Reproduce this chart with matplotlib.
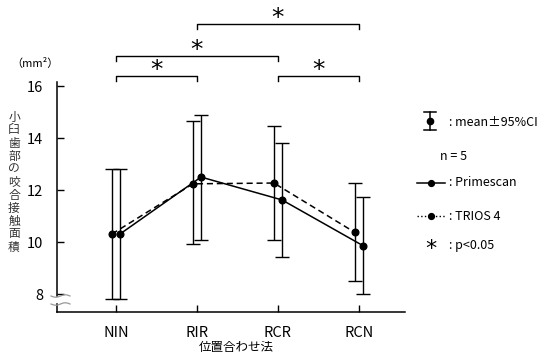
import numpy as np
import matplotlib
matplotlib.use("Agg")
import matplotlib.pyplot as plt
from matplotlib.lines import Line2D

plt.rcParams['font.family'] = ['Noto Sans CJK JP', 'DejaVu Sans']

categories = ['NIN', 'RIR', 'RCR', 'RCN']
primescan_mean = [10.31, 12.50, 11.62, 9.86]
primescan_lo = [7.80, 10.07, 9.42, 7.99]
primescan_hi = [12.81, 14.88, 13.80, 11.74]
trios_mean = [10.31, 12.24, 12.27, 10.37]
trios_lo = [7.80, 9.91, 10.08, 8.50]
trios_hi = [12.81, 14.65, 14.46, 12.26]
yticks = [8, 10, 12, 14, 16]
sig_pairs = [(0, 1), (0, 2), (1, 3), (2, 3)]
sig_levels = [16.385, 17.15, 18.38, 16.385]

W, H = 554, 356
fig = plt.figure(figsize=(W / 100, H / 100), dpi=100)
ax = fig.add_axes([57 / W, 1 - 312 / H, 348 / W, 226 / H])
ymin = 7.31
ax.set_ylim(ymin, ymin + 226 / 26)
ax.set_xlim(-0.728, 3.568)

x = np.arange(len(categories))
off = 0.05
pm = np.array(primescan_mean); tm = np.array(trios_mean)
ax.errorbar(x - off, tm, yerr=[tm - np.array(trios_lo), np.array(trios_hi) - tm],
            fmt='none', ecolor='k', elinewidth=1.0, capsize=4.7, capthick=1.0, zorder=2)
ax.errorbar(x + off, pm, yerr=[pm - np.array(primescan_lo), np.array(primescan_hi) - pm],
            fmt='none', ecolor='k', elinewidth=1.0, capsize=4.7, capthick=1.0, zorder=2)
ax.plot(x - off, tm, color='k', lw=1.1, dashes=(4, 2.5), marker='o', ms=4.8, zorder=3)
ax.plot(x + off, pm, color='k', lw=1.1, marker='o', ms=4.8, zorder=3)

for s in ['top', 'right', 'left']:
    ax.spines[s].set_visible(False)
ax.spines['bottom'].set_linewidth(1.1)

# manual left spine with break
tr = ax.get_yaxis_transform()
ax.add_line(Line2D([0, 0], [16.15, 7.92], transform=tr, color='k', lw=1.1, clip_on=False))
ax.add_line(Line2D([0, 0], [7.62, ymin], transform=tr, color='k', lw=1.1, clip_on=False))
# break marks
tt = np.linspace(0, 1, 30)
for yb in [296, 304]:
    xs = (51 + 19 * tt) / W
    ys = 1 - (yb + 1.2 * np.sin(tt * 2 * np.pi)) / H
    fig.add_artist(Line2D(xs, ys, transform=fig.transFigure, color='#999999', lw=0.9))

ax.set_yticks(yticks)
ax.set_yticklabels([str(v) for v in yticks])
ax.set_xticks(x)
ax.set_xticklabels(categories)
ax.tick_params(axis='y', direction='in', length=5, width=1.0, pad=10, labelsize=10.5)
ax.tick_params(axis='x', direction='in', length=5, width=1.0, pad=10, labelsize=10.5)

STAR = dict(family='DejaVu Sans')
# significance brackets
for (a, b), lv in zip(sig_pairs, sig_levels):
    ax.plot([a, a, b, b], [lv - 0.19, lv, lv, lv - 0.19], color='k', lw=1.0, clip_on=False)
    ax.text((a + b) / 2, lv + 0.24, '*', ha='center', va='center', fontsize=18,
            clip_on=False, **STAR)

def F(px, py):
    return px / W, 1 - py / H

fig.text(*F(35, 63), '（mm²）', ha='center', va='center', fontsize=8)
fig.text(*F(14, 182), '\n'.join('小臼歯部の咬合接触面積'), ha='center', va='center',
         fontsize=8.5, linespacing=1.0, color='#333333')
fig.text(*F(236, 348), '位置合わせ法', ha='center', va='center', fontsize=9)

# legend
fx = lambda px: px / W
fy = lambda py: 1 - py / H
fig.add_artist(Line2D([fx(430)] * 2, [fy(112), fy(130)], transform=fig.transFigure, color='k', lw=1.1))
for yy in [112, 130]:
    fig.add_artist(Line2D([fx(424), fx(436)], [fy(yy)] * 2, transform=fig.transFigure, color='k', lw=1.1))
fig.add_artist(Line2D([fx(430)], [fy(121)], transform=fig.transFigure, color='k', marker='o', ms=4.5))
fig.text(*F(449, 122), ': mean±95%CI', ha='left', va='center', fontsize=9)
fig.text(*F(440, 156), 'n = 5', ha='left', va='center', fontsize=9)
fig.add_artist(Line2D([fx(417), fx(445)], [fy(183)] * 2, transform=fig.transFigure, color='k', lw=1.1))
fig.add_artist(Line2D([fx(431)], [fy(183)], transform=fig.transFigure, color='k', marker='o', ms=4.2))
fig.text(*F(449, 183), ': Primescan', ha='left', va='center', fontsize=9)
fig.add_artist(Line2D([fx(417), fx(445)], [fy(216)] * 2, transform=fig.transFigure, color='k', lw=1.0, ls=':'))
fig.add_artist(Line2D([fx(431)], [fy(216)], transform=fig.transFigure, color='k', marker='o', ms=4.2))
fig.text(*F(449, 216), ': TRIOS 4', ha='left', va='center', fontsize=9)
fig.text(*F(431, 249), '*', ha='center', va='center', fontsize=16, **STAR)
fig.text(*F(449, 246), ': p<0.05', ha='left', va='center', fontsize=9)

fig.savefig('out.png', dpi=100)
